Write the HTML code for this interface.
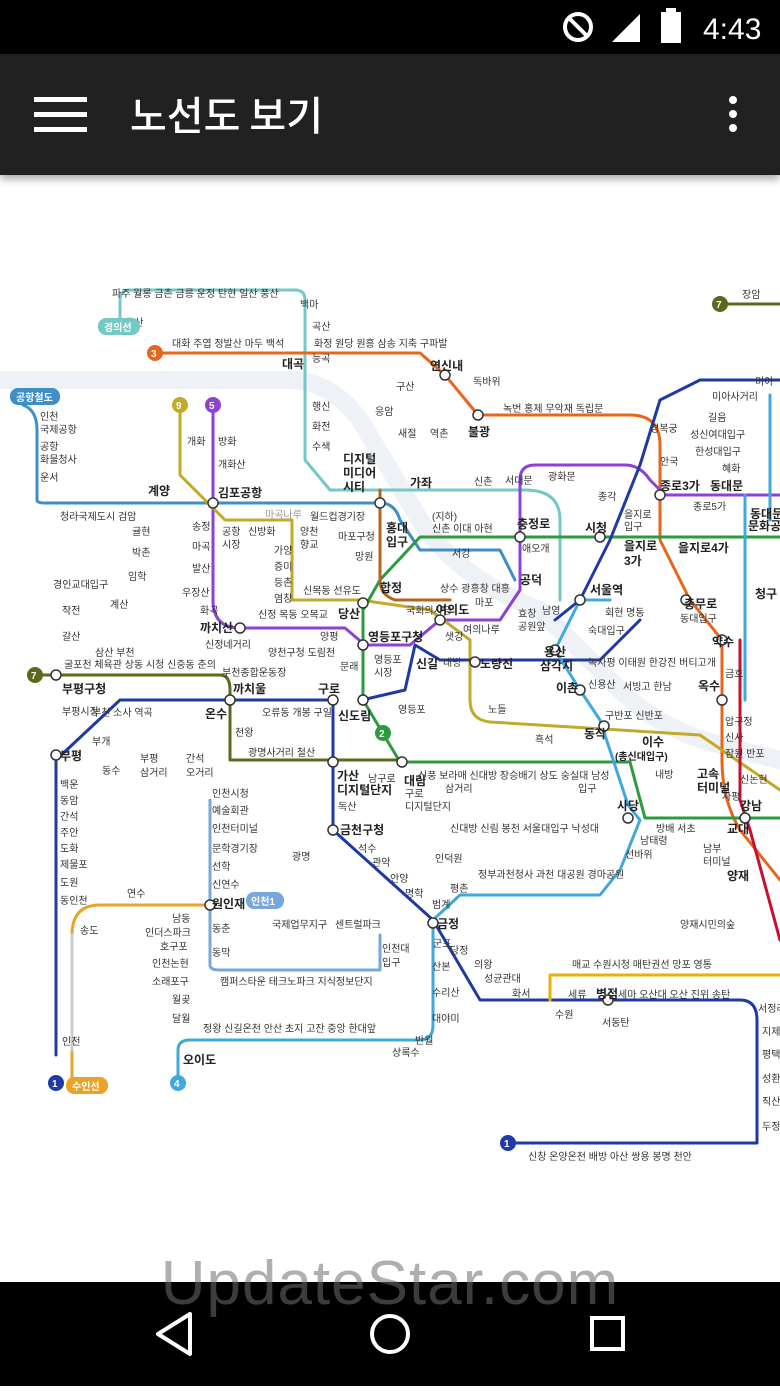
<!DOCTYPE html>
<html><head><meta charset="utf-8">
<style>
html,body{margin:0;padding:0;width:780px;height:1386px;overflow:hidden;background:#fff;font-family:"Liberation Sans","Noto Sans CJK KR",sans-serif;}
#status{position:absolute;left:0;top:0;width:780px;height:54px;background:#000;}
#appbar{position:absolute;left:0;top:54px;width:780px;height:121px;background:#212121;box-shadow:0 4px 8px rgba(0,0,0,.35);}
#title{position:absolute;left:130px;top:30px;color:#fff;font-size:40px;font-family:"Noto Sans CJK KR",sans-serif;font-weight:500;}
#nav{position:absolute;left:0;top:1282px;width:780px;height:104px;background:#000;}
#map{position:absolute;left:0;top:175px;}
#wm{position:absolute;left:0;width:780px;top:1248px;text-align:center;font-size:62px;color:rgba(110,110,110,.55);letter-spacing:1px;}
</style></head><body>
<div id="status">
 <svg width="780" height="54">
  <circle cx="578" cy="27" r="13" fill="none" stroke="#fff" stroke-width="4"/>
  <line x1="569" y1="18" x2="587" y2="36" stroke="#fff" stroke-width="4"/>
  <polygon points="612,42 640,14 640,42" fill="#fff"/>
  <rect x="661" y="12" width="20" height="31" fill="#fff"/><rect x="666" y="8" width="10" height="5" fill="#fff"/>
  <text x="703" y="39" fill="#fff" font-size="30" font-family="Liberation Sans">4:43</text>
 </svg>
</div>
<div id="appbar">
 <svg width="780" height="121" style="position:absolute;left:0;top:0">
  <rect x="34" y="43" width="53" height="5" fill="#fff"/><rect x="34" y="58" width="53" height="5" fill="#fff"/><rect x="34" y="73" width="53" height="5" fill="#fff"/>
  <circle cx="733" cy="46" r="4" fill="#fff"/><circle cx="733" cy="60" r="4" fill="#fff"/><circle cx="733" cy="74" r="4" fill="#fff"/>
 </svg>
 <div id="title">노선도 보기</div>
</div>
<svg id="map" width="780" height="1107" viewBox="0 175 780 1107" font-family="Liberation Sans, Noto Sans CJK KR, sans-serif" font-size="10" fill="#333">
 <g fill="none" stroke-linejoin="round" stroke-linecap="round">
  <path d="M0,380 L290,380 Q330,380 360,420 L420,520 Q460,580 540,610 L620,690 Q660,730 720,745 L780,760" stroke="#eef2f6" stroke-width="18"/>
  <path d="M120,330 V300 Q120,290 130,290 H295 Q305,290 305,300 V460 L330,490 H525 Q560,490 560,520 V600" stroke="#74c8c6" stroke-width="3"/>
  <path d="M23,405 Q37,410 37,430 V500 Q37,503 45,503 H380 Q395,503 400,520 L420,550 H500 L515,580" stroke="#3e8ec8" stroke-width="3"/>
  <path d="M155,353 H420 L445,375 L478,415 H630 Q660,415 660,445 V540 L690,600 L722,640 V760 Q722,800 740,830 L780,880" stroke="#e8661c" stroke-width="3"/>
  <path d="M213,405 V600 Q213,628 240,628 H345 L365,645 H410 L440,620 H500 L520,590 V480 Q520,465 535,465 H625 Q640,465 650,480 L665,495 H780" stroke="#8d42d6" stroke-width="3"/>
  <path d="M180,405 V475 L225,520 H292 V600 H360 L430,610 L470,640 V700 Q470,720 490,722 L700,735 L780,790" stroke="#c2aa28" stroke-width="3"/>
  <path d="M363,700 L400,762 H630 L645,818 H780 M363,700 V610 L380,580 L420,537 H780" stroke="#2b9b3e" stroke-width="3"/>
  <path d="M35,675 H220 Q230,675 230,690 V760 H400" stroke="#5a6a1c" stroke-width="3"/>
  <path d="M720,304 H780" stroke="#5a6a1c" stroke-width="3"/>
  <path d="M56,1055 V760 L120,700 H333 V790 V830 L433,920 L480,1000 H740 Q757,1000 757,1020 V1143 H508" stroke="#1f3aa6" stroke-width="3"/>
  <path d="M362,700 L405,690 L415,645 L440,660 H600 L640,620" stroke="#1f3aa6" stroke-width="3"/>
  <path d="M555,620 L580,600 L610,540 L640,465 L660,400 L700,380 L780,380" stroke="#1f3aa6" stroke-width="3"/>
  <path d="M178,1083 V1050 Q178,1040 190,1040 H420 Q433,1040 433,1025 V920 L460,895 H600 L620,870 L640,820 L628,805 L600,720 L580,690 L555,650 L580,600 H610" stroke="#3fa9dd" stroke-width="3"/>
  <path d="M210,800 V965 Q210,970 220,970 H380 V935" stroke="#79a7dc" stroke-width="3"/>
  <path d="M90,1083 H72 V935 Q72,905 100,905 H210" stroke="#eaa32a" stroke-width="3"/>
  <path d="M72,935 V1050" stroke="#cccccc" stroke-width="3"/>
  <path d="M550,1000 V975 H780" stroke="#eab100" stroke-width="3"/>
  <path d="M740,640 V800 L750,830 L780,940" stroke="#c8102e" stroke-width="3"/>
  <path d="M380,490 V580 Q380,595 395,600 H450" stroke="#b8621a" stroke-width="3"/>
  <path d="M745,495 V700 M770,395 V520" stroke="#3fa9dd" stroke-width="3"/>
 </g>
 <g fill="#fff" stroke="#333" stroke-width="1.5">
  <circle cx="213" cy="503" r="5"/><circle cx="380" cy="503" r="5"/><circle cx="445" cy="375" r="5"/><circle cx="478" cy="415" r="5"/>
  <circle cx="333" cy="700" r="5"/><circle cx="363" cy="700" r="5"/><circle cx="363" cy="645" r="5"/><circle cx="363" cy="603" r="5"/>
  <circle cx="230" cy="700" r="5"/><circle cx="56" cy="755" r="5"/><circle cx="56" cy="675" r="5"/><circle cx="240" cy="628" r="5"/>
  <circle cx="333" cy="762" r="5"/><circle cx="333" cy="830" r="5"/><circle cx="433" cy="923" r="5"/><circle cx="210" cy="905" r="5"/>
  <circle cx="402" cy="762" r="5"/><circle cx="628" cy="818" r="5"/><circle cx="580" cy="600" r="5"/><circle cx="660" cy="495" r="5"/>
  <circle cx="686" cy="600" r="5"/><circle cx="722" cy="640" r="5"/><circle cx="555" cy="650" r="5"/><circle cx="580" cy="690" r="5"/>
  <circle cx="604" cy="726" r="5"/><circle cx="520" cy="537" r="5"/><circle cx="440" cy="620" r="5"/><circle cx="745" cy="818" r="5"/>
  <circle cx="608" cy="1000" r="5"/><circle cx="475" cy="662" r="5"/><circle cx="722" cy="700" r="5"/><circle cx="600" cy="537" r="5"/>
 </g>
 <g font-size="10">
  <text x="112" y="297">파주 월롱 금촌 금릉 운정 탄현 일산 풍산</text>
  <text x="125" y="326">문산</text><text x="300" y="308">백마</text><text x="312" y="330">곡산</text>
  <text x="172" y="347">대화 주엽 정발산 마두 백석</text><text x="314" y="347">화정 원당 원흥 삼송 지축 구파발</text>
  <text x="473" y="385">독바위</text><text x="396" y="390">구산</text><text x="375" y="415">응암</text><text x="398" y="437">새절</text><text x="430" y="437">역촌</text>
  <text x="503" y="412">녹번 홍제 무악재 독립문</text><text x="650" y="432">경복궁</text><text x="660" y="465">안국</text>
  <text x="312" y="362">능곡</text><text x="312" y="410">행신</text><text x="312" y="430">화전</text><text x="312" y="450">수색</text>
  <text x="40" y="420">인천</text><text x="40" y="433">국제공항</text><text x="40" y="450">공항</text><text x="40" y="463">화물청사</text><text x="40" y="481">운서</text>
  <text x="60" y="520">청라국제도시 검암</text><text x="132" y="535">귤현</text><text x="132" y="556">박촌</text><text x="128" y="580">임학</text><text x="110" y="608">계산</text>
  <text x="53" y="588">경인교대입구</text><text x="62" y="614">작전</text><text x="62" y="640">갈산</text>
  <text x="64" y="668">굴포천 체육관 상동 시청 신중동 춘의</text><text x="95" y="656">삼산 부천</text>
  <text x="62" y="715">부평시장</text><text x="92" y="745">부개</text><text x="60" y="788">백운</text><text x="60" y="804">동암</text><text x="60" y="820">간석</text><text x="60" y="836">주안</text><text x="60" y="852">도화</text><text x="60" y="868">제물포</text><text x="60" y="886">도원</text><text x="60" y="904">동인천</text><text x="62" y="1045">인천</text>
  <text x="80" y="934">송도</text><text x="127" y="897">연수</text><text x="172" y="922">남동</text><text x="145" y="936">인더스파크</text><text x="160" y="950">호구포</text><text x="152" y="967">인천논현</text><text x="152" y="985">소래포구</text><text x="172" y="1003">월곶</text><text x="172" y="1022">달월</text>
  <text x="187" y="445">개화</text><text x="218" y="445">방화</text><text x="218" y="468">개화산</text><text x="192" y="530">송정</text><text x="192" y="550">마곡</text><text x="192" y="572">발산</text><text x="182" y="596">우장산</text><text x="200" y="614">화곡</text>
  <text x="222" y="535">공항</text><text x="222" y="548">시장</text><text x="248" y="535">신방화</text><text x="265" y="518" fill="#999">마곡나루</text><text x="274" y="554">가양</text><text x="274" y="570">증미</text><text x="274" y="586">등촌</text><text x="274" y="602">염창</text>
  <text x="300" y="535">양천</text><text x="300" y="548">향교</text><text x="310" y="520">월드컵경기장</text><text x="338" y="540">마포구청</text><text x="355" y="560">망원</text><text x="303" y="594">신목동 선유도</text>
  <text x="205" y="648">신정네거리</text><text x="258" y="618">신정 목동 오목교</text><text x="320" y="640">양평</text><text x="268" y="656">양천구청 도림천</text><text x="222" y="676">부천종합운동장</text><text x="340" y="670">문래</text>
  <text x="262" y="716">오류동 개봉 구일</text><text x="235" y="736">천왕</text><text x="248" y="756">광명사거리 철산</text><text x="92" y="716">부천 소사 역곡</text>
  <text x="102" y="774">동수</text><text x="140" y="762">부평</text><text x="140" y="776">삼거리</text><text x="186" y="762">간석</text><text x="186" y="776">오거리</text>
  <text x="212" y="797">인천시청</text><text x="212" y="814">예술회관</text><text x="212" y="832">인천터미널</text><text x="212" y="852">문학경기장</text><text x="212" y="870">선학</text><text x="212" y="888">신연수</text><text x="212" y="932">동춘</text><text x="212" y="956">동막</text>
  <text x="272" y="928">국제업무지구</text><text x="335" y="928">센트럴파크</text><text x="382" y="952">인천대</text><text x="382" y="966">입구</text>
  <text x="220" y="985">캠퍼스타운 테크노파크 지식정보단지</text>
  <text x="203" y="1032">정왕 신길온천 안산 초지 고잔 중앙 한대앞</text><text x="415" y="1044">반월</text><text x="392" y="1056">상록수</text>
  <text x="292" y="860">광명</text><text x="358" y="852">석수</text><text x="372" y="866">관악</text><text x="390" y="882">안양</text><text x="405" y="897">명학</text>
  <text x="433" y="947">군포</text><text x="450" y="954">당정</text><text x="474" y="968">의왕</text><text x="484" y="982">성균관대</text><text x="512" y="997">화서</text>
  <text x="432" y="970">산본</text><text x="432" y="996">수리산</text><text x="432" y="1022">대야미</text><text x="432" y="908">범계</text><text x="450" y="892">평촌</text><text x="435" y="862">인덕원</text>
  <text x="478" y="878">정부과천청사 과천 대공원 경마공원</text>
  <text x="338" y="810">독산</text><text x="368" y="782">남구로</text>
  <text x="418" y="779">신풍 보라매 신대방 장승배기 상도 숭실대 남성</text><text x="445" y="792">삼거리</text><text x="578" y="792">입구</text><text x="405" y="797">구로</text><text x="405" y="810">디지털단지</text>
  <text x="450" y="832">신대방 신림 봉천 서울대입구 낙성대</text><text x="656" y="832">방배 서초</text><text x="625" y="858">선바위</text><text x="640" y="844">남태령</text>
  <text x="535" y="743">흑석</text><text x="488" y="713">노들</text><text x="605" y="719">구반포 신반포</text><text x="655" y="778">내방</text>
  <text x="406" y="614">국회의사당</text><text x="440" y="592">상수 광흥창 대흥</text><text x="463" y="633">여의나루</text><text x="445" y="640">샛강</text><text x="475" y="606">마포</text>
  <text x="374" y="663">영등포</text><text x="374" y="676">시장</text><text x="443" y="666">대방</text><text x="398" y="713">영등포</text>
  <text x="432" y="520">(지하)</text><text x="432" y="532">신촌 이대 아현</text><text x="474" y="485">신촌</text><text x="505" y="484">서대문</text><text x="452" y="557">서강</text>
  <text x="522" y="552">애오개</text><text x="548" y="480">광화문</text><text x="598" y="500">종각</text><text x="624" y="518">을지로</text><text x="624" y="530">입구</text>
  <text x="693" y="510">종로5가</text><text x="690" y="438">성신여대입구</text><text x="695" y="455">한성대입구</text><text x="722" y="472">혜화</text><text x="708" y="421">길음</text><text x="712" y="400">미아사거리</text><text x="755" y="385">미아</text><text x="742" y="298">장암</text>
  <text x="605" y="616">회현 명동</text><text x="588" y="634">숙대입구</text><text x="518" y="617">효창</text><text x="518" y="630">공원앞</text><text x="542" y="614">남영</text>
  <text x="588" y="666">녹사평 이태원 한강진 버티고개</text><text x="588" y="688">신용산</text><text x="623" y="690">서빙고 한남</text><text x="680" y="622">동대입구</text><text x="725" y="677">금호</text>
  <text x="725" y="725">압구정</text><text x="725" y="741">신사</text><text x="725" y="757">잠원 반포</text><text x="740" y="783">신논현</text><text x="722" y="800">사평</text>
  <text x="703" y="852">남부</text><text x="703" y="865">터미널</text><text x="680" y="928">양재시민의숲</text>
  <text x="572" y="968">매교 수원시청 매탄권선 망포 영통</text><text x="568" y="998">세류</text><text x="618" y="998">세마 오산대 오산 진위 송탄</text><text x="602" y="1026">서동탄</text><text x="555" y="1018">수원</text>
  <text x="528" y="1160">신창 온양온천 배방 아산 쌍용 봉명 천안</text>
  <text x="758" y="1012">서정리</text><text x="762" y="1035">지제</text><text x="762" y="1058">평택</text><text x="762" y="1082">성환</text><text x="762" y="1105">직산</text><text x="762" y="1130">두정</text>
 </g>
 <g font-size="12" font-weight="bold" fill="#222">
  <text x="430" y="370">연신내</text><text x="468" y="436">불광</text><text x="282" y="368">대곡</text><text x="148" y="495">계양</text><text x="218" y="497">김포공항</text>
  <text x="343" y="463">디지털</text><text x="343" y="477">미디어</text><text x="343" y="491">시티</text><text x="410" y="487">가좌</text><text x="386" y="532">홍대</text><text x="386" y="546">입구</text>
  <text x="517" y="528">충정로</text><text x="585" y="532">시청</text><text x="624" y="550">을지로</text><text x="624" y="565">3가</text><text x="678" y="552">을지로4가</text>
  <text x="660" y="490">종로3가</text><text x="710" y="490">동대문</text><text x="750" y="518">동대문</text><text x="748" y="530">문화공</text>
  <text x="590" y="594">서울역</text><text x="520" y="584">공덕</text><text x="380" y="592">합정</text><text x="338" y="618">당산</text><text x="436" y="614">여의도</text>
  <text x="368" y="641">영등포구청</text><text x="416" y="668">신길</text><text x="480" y="668">노량진</text><text x="544" y="656">용산</text><text x="540" y="670">삼각지</text><text x="556" y="692">이촌</text>
  <text x="684" y="608">충무로</text><text x="712" y="646">약수</text><text x="755" y="598">청구</text><text x="698" y="690">옥수</text>
  <text x="200" y="632">까치산</text><text x="62" y="693">부평구청</text><text x="233" y="693">까치울</text><text x="205" y="718">온수</text><text x="318" y="693">구로</text><text x="338" y="720">신도림</text>
  <text x="60" y="760">부평</text><text x="404" y="785">대림</text><text x="337" y="780">가산</text><text x="337" y="794">디지털단지</text><text x="340" y="834">금천구청</text>
  <text x="584" y="738">동작</text><text x="642" y="746">이수</text><text x="615" y="760" font-size="10">(총신대입구)</text><text x="617" y="810">사당</text>
  <text x="697" y="778">고속</text><text x="697" y="792">터미널</text><text x="740" y="810">강남</text><text x="727" y="833">교대</text><text x="727" y="880">양재</text>
  <text x="212" y="908">원인재</text><text x="437" y="928">금정</text><text x="596" y="998">병점</text><text x="183" y="1064">오이도</text>
 </g>
 <g font-size="10" font-weight="bold" fill="#fff">
  <rect x="10" y="388" width="50" height="17" rx="8" fill="#3e8ec8"/><text x="16" y="401">공항철도</text>
  <rect x="98" y="318" width="42" height="17" rx="8" fill="#74c8c6"/><text x="104" y="331">경의선</text>
  <rect x="246" y="892" width="38" height="17" rx="8" fill="#79a7dc"/><text x="251" y="905">인천1</text>
  <rect x="66" y="1077" width="42" height="17" rx="8" fill="#eaa32a"/><text x="72" y="1090">수인선</text>
  <circle cx="155" cy="353" r="8" fill="#e8661c"/><text x="151" y="357">3</text>
  <circle cx="180" cy="405" r="8" fill="#c2aa28"/><text x="176" y="409">9</text>
  <circle cx="213" cy="405" r="8" fill="#8d42d6"/><text x="209" y="409">5</text>
  <circle cx="35" cy="675" r="8" fill="#5a6a1c"/><text x="31" y="679">7</text>
  <circle cx="720" cy="304" r="8" fill="#5a6a1c"/><text x="716" y="308">7</text>
  <circle cx="56" cy="1083" r="8" fill="#1f3aa6"/><text x="52" y="1087">1</text>
  <circle cx="508" cy="1143" r="8" fill="#1f3aa6"/><text x="504" y="1147">1</text>
  <circle cx="178" cy="1083" r="8" fill="#3fa9dd"/><text x="174" y="1087">4</text>
  <circle cx="383" cy="733" r="8" fill="#2b9b3e"/><text x="379" y="737">2</text>
 </g>
</svg>
<div id="nav">
 <svg width="780" height="104">
  <polygon points="190,32 158,52 190,72" fill="none" stroke="#fff" stroke-width="4" stroke-linejoin="round"/>
  <circle cx="390" cy="52" r="18" fill="none" stroke="#fff" stroke-width="4"/>
  <rect x="592" y="36" width="31" height="31" fill="none" stroke="#fff" stroke-width="4"/>
 </svg>
</div>
<div id="wm">UpdateStar.com</div>
</body></html>
